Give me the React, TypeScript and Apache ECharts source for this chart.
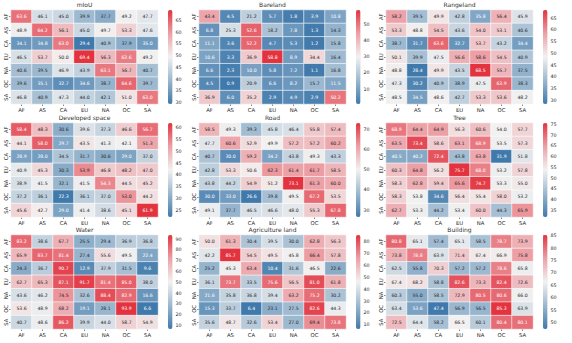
import React, { useEffect, useRef } from "react";
import * as echarts from "echarts";

const regions = ["AF", "AS", "CA", "EU", "NA", "OC", "SA"];

const miouValues = [
  [63.6, 46.1, 45.0, 39.9, 37.7, 49.2, 47.7],
  [48.9, 64.2, 56.1, 45.0, 49.7, 53.3, 47.6],
  [34.1, 34.8, 63.0, 29.4, 40.9, 37.9, 35.0],
  [46.5, 53.7, 50.0, 69.4, 56.3, 62.6, 49.2],
  [40.6, 39.5, 46.9, 43.9, 63.1, 56.7, 40.7],
  [39.6, 35.1, 32.7, 34.6, 38.7, 64.6, 39.7],
  [46.8, 40.9, 47.3, 44.0, 42.1, 51.0, 63.0],
];
const barelandValues = [
  [43.4, 4.5, 21.2, 5.7, 1.8, 3.9, 10.8],
  [6.8, 25.3, 52.6, 18.2, 7.8, 1.3, 14.3],
  [11.1, 3.6, 52.2, 4.7, 5.3, 1.2, 15.8],
  [10.6, 3.3, 36.9, 58.8, 8.9, 34.4, 16.4],
  [6.6, 2.3, 10.0, 5.8, 7.2, 1.1, 16.8],
  [4.5, 0.9, 20.9, 6.6, 8.2, 15.7, 11.5],
  [36.9, 6.0, 35.2, 2.9, 4.9, 2.9, 50.2],
];
const rangelandValues = [
  [58.2, 39.5, 49.9, 42.8, 35.8, 56.4, 45.9],
  [53.3, 48.8, 54.5, 43.6, 54.0, 53.1, 40.6],
  [38.7, 31.7, 63.6, 32.7, 53.7, 43.2, 34.4],
  [50.1, 39.9, 47.5, 56.6, 58.6, 54.5, 40.9],
  [48.8, 28.4, 49.9, 43.5, 68.5, 55.7, 37.5],
  [47.3, 30.2, 40.9, 38.9, 47.5, 63.9, 38.3],
  [48.5, 34.5, 48.6, 42.7, 53.3, 53.6, 48.2],
];
const developedValues = [
  [58.4, 48.3, 30.6, 39.6, 37.3, 46.6, 56.7],
  [44.1, 58.0, 29.7, 43.5, 41.3, 42.1, 51.3],
  [28.9, 28.0, 34.5, 31.7, 30.6, 29.0, 37.0],
  [40.9, 45.3, 30.3, 53.9, 46.8, 48.2, 47.0],
  [38.9, 41.5, 32.1, 41.5, 54.3, 44.5, 45.2],
  [37.2, 36.1, 22.3, 36.1, 37.0, 53.0, 44.2],
  [45.6, 42.7, 29.0, 41.4, 38.6, 45.1, 61.9],
];
const roadValues = [
  [58.5, 49.3, 39.3, 45.8, 46.4, 55.8, 57.4],
  [47.7, 60.6, 52.9, 49.9, 57.2, 57.2, 60.2],
  [40.7, 30.0, 59.2, 34.2, 43.8, 49.3, 43.3],
  [42.8, 53.3, 50.6, 62.3, 61.4, 61.7, 58.5],
  [43.8, 44.2, 54.9, 51.2, 73.1, 61.3, 60.0],
  [30.0, 33.0, 26.6, 39.8, 49.5, 67.2, 53.5],
  [49.1, 37.7, 46.5, 46.6, 48.0, 55.3, 67.8],
];
const treeValues = [
  [68.9, 64.4, 64.9, 56.3, 60.6, 54.0, 57.7],
  [63.5, 73.4, 58.6, 63.1, 68.9, 53.5, 57.3],
  [40.5, 40.2, 72.4, 43.8, 63.8, 31.9, 51.8],
  [60.3, 64.8, 56.2, 75.7, 68.0, 53.2, 57.8],
  [58.3, 62.8, 59.4, 65.6, 74.7, 53.3, 55.0],
  [58.3, 53.8, 34.6, 56.4, 55.4, 58.0, 53.2],
  [62.7, 53.3, 44.2, 53.4, 60.0, 44.3, 65.9],
];
const waterValues = [
  [83.2, 38.6, 67.7, 25.5, 29.4, 36.9, 36.8],
  [65.9, 83.7, 81.4, 27.4, 55.6, 49.5, 22.4],
  [24.3, 36.7, 90.7, 12.9, 37.9, 31.5, 9.6],
  [62.7, 65.3, 87.1, 91.7, 81.4, 85.0, 38.0],
  [43.6, 46.2, 74.5, 32.6, 88.4, 82.9, 16.6],
  [53.6, 48.9, 68.2, 19.1, 28.1, 93.9, 6.6],
  [40.7, 48.6, 86.2, 39.9, 44.0, 58.7, 54.9],
];
const agricultureValues = [
  [50.0, 61.3, 30.4, 39.5, 30.0, 62.8, 56.3],
  [42.2, 85.7, 54.5, 49.5, 45.8, 66.4, 57.8],
  [25.2, 45.3, 63.4, 10.4, 31.6, 46.5, 22.6],
  [36.1, 73.7, 33.5, 75.6, 56.5, 81.0, 61.8],
  [21.6, 35.8, 36.8, 39.4, 63.2, 75.2, 30.2],
  [15.3, 33.7, 6.4, 23.1, 27.5, 82.6, 44.3],
  [35.6, 48.7, 32.6, 53.4, 27.0, 69.4, 73.8],
];
const buildingValues = [
  [80.8, 65.1, 57.4, 65.1, 58.5, 78.7, 73.9],
  [73.8, 78.8, 63.9, 71.4, 67.4, 66.9, 75.8],
  [62.5, 55.8, 70.3, 57.2, 57.2, 78.6, 65.8],
  [67.4, 68.2, 58.8, 82.6, 73.3, 82.4, 72.6],
  [60.3, 55.0, 58.5, 72.9, 80.5, 80.6, 66.0],
  [63.4, 53.6, 47.4, 56.9, 56.5, 85.3, 63.9],
  [72.5, 64.4, 58.2, 66.5, 60.1, 80.4, 80.1],
];

const titles = ["mIoU", "Bareland", "Rangeland", "Developed space", "Road", "Tree", "Water", "Agriculture land", "Building"];
const panelValues = [miouValues, barelandValues, rangelandValues, developedValues, roadValues, treeValues, waterValues, agricultureValues, buildingValues];

const miouTicks = [30, 35, 40, 45, 50, 55, 60, 65];
const barelandTicks = [10, 20, 30, 40, 50];
const rangelandTicks = [30, 35, 40, 45, 50, 55, 60, 65];
const developedTicks = [25, 30, 35, 40, 45, 50, 55, 60];
const roadTicks = [30, 40, 50, 60, 70];
const treeTicks = [35, 40, 45, 50, 55, 60, 65, 70, 75];
const waterTicks = [10, 20, 30, 40, 50, 60, 70, 80, 90];
const agricultureTicks = [10, 20, 30, 40, 50, 60, 70, 80];
const buildingTicks = [50, 55, 60, 65, 70, 75, 80, 85];
const panelTicks = [miouTicks, barelandTicks, rangelandTicks, developedTicks, roadTicks, treeTicks, waterTicks, agricultureTicks, buildingTicks];

const palette = ["#4079ab", "#9ab7cf", "#f2f1f1", "#eca0a6", "#e2333f"];

function hexToRgb(h: string) {
  return [parseInt(h.slice(1, 3), 16), parseInt(h.slice(3, 5), 16), parseInt(h.slice(5, 7), 16)];
}
function colorAt(t: number) {
  const n = palette.length - 1;
  const p = Math.max(0, Math.min(1, t)) * n;
  const i = Math.min(n - 1, Math.floor(p));
  const f = p - i;
  const a = hexToRgb(palette[i]);
  const b = hexToRgb(palette[i + 1]);
  return a.map((v, k) => v + (b[k] - v) * f);
}
function luminance(rgb: number[]) {
  const c = rgb.map((v) => {
    const s = v / 255;
    return s <= 0.03928 ? s / 12.92 : Math.pow((s + 0.055) / 1.055, 2.4);
  });
  return 0.2126 * c[0] + 0.7152 * c[1] + 0.0722 * c[2];
}

const colLefts = [11, 199, 386];
const rowTops = [10, 123, 235];
const mapW = 147;
const mapH = 94;
const cbOffset = 157;
const cbW = 4.5;
const font = "DejaVu Sans";

export default function App() {
  const ref = useRef<HTMLDivElement>(null);
  useEffect(() => {
    if (!ref.current) return;
    const chart = echarts.init(ref.current, undefined, { renderer: "svg" });
    const grid: any[] = [];
    const xAxis: any[] = [];
    const yAxis: any[] = [];
    const series: any[] = [];
    const visualMap: any[] = [];
    const title: any[] = [];
    panelValues.forEach((vals, p) => {
      const left = colLefts[p % 3];
      const top = rowTops[Math.floor(p / 3)];
      const flat = vals.flat();
      const mn = Math.min(...flat);
      const mx = Math.max(...flat);
      grid.push({ left, top, width: mapW, height: mapH });
      grid.push({ left: left + cbOffset, top, width: cbW, height: mapH });
      const gi = grid.length - 2;
      xAxis.push({
        type: "category", gridIndex: gi, data: regions, position: "bottom",
        axisLine: { show: false }, splitLine: { show: false },
        axisTick: { show: true, length: 2, alignWithLabel: true, lineStyle: { color: "#333", width: 0.6 } },
        axisLabel: { fontSize: 5.3, color: "#262626", margin: 3, fontFamily: font },
      });
      yAxis.push({
        type: "category", gridIndex: gi, data: regions, inverse: true,
        axisLine: { show: false }, splitLine: { show: false },
        axisTick: { show: true, length: 2, alignWithLabel: true, lineStyle: { color: "#333", width: 0.6 } },
        axisLabel: { fontSize: 5.3, color: "#262626", margin: 3, rotate: 90, fontFamily: font },
      });
      xAxis.push({ type: "value", gridIndex: gi + 1, show: false });
      yAxis.push({
        type: "value", gridIndex: gi + 1, position: "right", min: mn, max: mx,
        axisLine: { show: false }, splitLine: { show: false },
        axisTick: { show: true, length: 2, lineStyle: { color: "#333", width: 0.6 }, customValues: panelTicks[p] },
        axisLabel: { fontSize: 4.8, color: "#262626", margin: 3, fontFamily: font, customValues: panelTicks[p] },
      });
      const data: any[] = [];
      vals.forEach((row, r) => {
        row.forEach((v, c) => {
          const lum = luminance(colorAt((v - mn) / (mx - mn)));
          data.push({ value: [c, r, v], label: { color: lum > 0.38 ? "#262626" : "#ffffff" } });
        });
      });
      series.push({
        type: "heatmap", xAxisIndex: p * 2, yAxisIndex: p * 2, data,
        itemStyle: { borderColor: "#ffffff", borderWidth: 0.6 },
        label: { show: true, fontSize: 4.6, fontFamily: font, formatter: (d: any) => d.value[2].toFixed(1) },
        emphasis: { disabled: true },
      });
      visualMap.push({
        type: "continuous", seriesIndex: p, min: mn, max: mx, calculable: false,
        left: left + cbOffset, top, itemWidth: cbW, itemHeight: mapH, padding: 0,
        text: null, showLabel: false, hoverLink: false,
        inRange: { color: palette },
      });
      title.push({
        text: titles[p], left: left + mapW / 2, top: top - 8.5, textAlign: "center",
        textStyle: { fontSize: 6, fontWeight: 400, color: "#333333", fontFamily: font },
        padding: 0,
      });
    });
    chart.setOption({
      animation: false,
      backgroundColor: "#ffffff",
      textStyle: { fontFamily: font },
      title, grid, xAxis, yAxis, series, visualMap,
    });
    return () => chart.dispose();
  }, []);
  return <div ref={ref} style={{ position: "fixed", left: 0, top: 0, width: 572, height: 343 }} />;
}
